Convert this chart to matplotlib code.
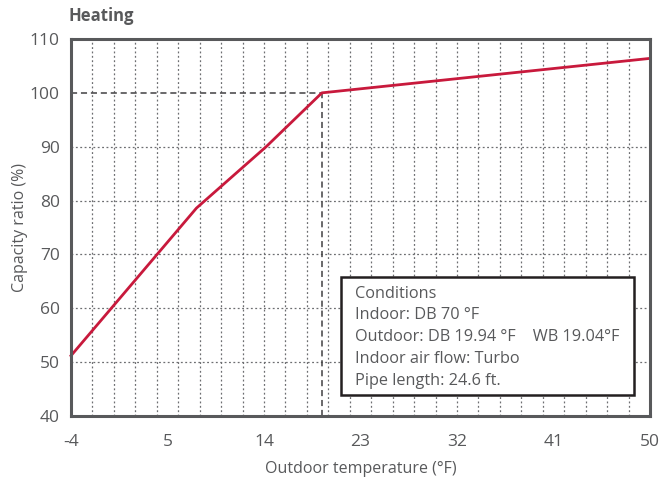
import matplotlib.pyplot as plt
import numpy as np

# curve
temp_f = [-4, 7.7, 14.2, 19.4, 50]
capacity = [51.2, 78.6, 90.0, 100.0, 106.4]

rated_temp = 19.4
rated_capacity = 100

x_ticks = [-4, 5, 14, 23, 32, 41, 50]
y_ticks = [40, 50, 60, 70, 80, 90, 100, 110]

conditions = [
    "Conditions",
    "Indoor: DB 70 °F",
    "Outdoor: DB 19.94 °F    WB 19.04°F",
    "Indoor air flow: Turbo",
    "Pipe length: 24.6 ft.",
]

text_col = '#58595b'
spine_col = '#58595b'
red = '#c8193c'

plt.rcParams['font.family'] = ['Open Sans', 'DejaVu Sans']
plt.rcParams['axes.unicode_minus'] = False

fig = plt.figure(figsize=(6.62, 4.87), dpi=100)
ax = fig.add_axes([71/662, 1 - 416/487, (650 - 71)/662, (416 - 39)/487])

ax.set_xlim(-4, 50)
ax.set_ylim(40, 110)

# dotted grid: every 2 °F vertically, every 10 % horizontally
for gx in np.arange(-2, 50, 2):
    ax.axvline(gx, color='#6d6e71', linestyle=(0, (1.5, 2)), linewidth=0.9, zorder=1)
for gy in [50, 60, 70, 80, 90]:
    ax.axhline(gy, color='#6d6e71', linestyle=(0, (1.5, 2)), linewidth=0.9, zorder=1)

# rated point guide lines
ax.plot([-4, rated_temp], [rated_capacity, rated_capacity], color='#414042',
        linestyle=(0, (4, 2.5)), linewidth=1.1, zorder=2)
ax.plot([rated_temp, rated_temp], [40, rated_capacity], color='#414042',
        linestyle=(0, (4, 2.5)), linewidth=1.1, zorder=2)

ax.plot(temp_f, capacity, color=red, linewidth=2.0, zorder=3, clip_on=False)

ax.set_xticks(x_ticks)
ax.set_yticks(y_ticks)
ax.tick_params(length=0, labelsize=12.5, colors=text_col)
ax.tick_params(axis='x', pad=13)
ax.tick_params(axis='y', pad=8)
for s in ax.spines.values():
    s.set_color(spine_col)
    s.set_linewidth(2.2)
    s.set_zorder(5)

ax.set_xlabel("Outdoor temperature (°F)", fontsize=11.5, color=text_col, labelpad=8)
ax.set_ylabel("Capacity ratio (%)", fontsize=11.5, color=text_col, labelpad=1)

fig.text(68/662, 1 - 16/487, "Heating", fontsize=12, fontweight='bold',
         color=text_col, va='center', ha='left')

# conditions box
box_x0, box_x1 = (341 - 71)/579, (634 - 71)/579
box_y0, box_y1 = (416 - 395)/377, (416 - 277)/377
ax.add_patch(plt.Rectangle((box_x0, box_y0), box_x1 - box_x0, box_y1 - box_y0,
                           transform=ax.transAxes, facecolor='white',
                           edgecolor='#231f20', linewidth=1.8, zorder=6))
line_y = [294, 315, 337, 359, 381]
for txt, py in zip(conditions, line_y):
    ax.text((355 - 71)/579, (416 - py)/377, txt, transform=ax.transAxes,
            fontsize=11.7, color=text_col, va='center', ha='left', zorder=7)

plt.savefig('out.png', dpi=100, facecolor='white')
plt.close()
